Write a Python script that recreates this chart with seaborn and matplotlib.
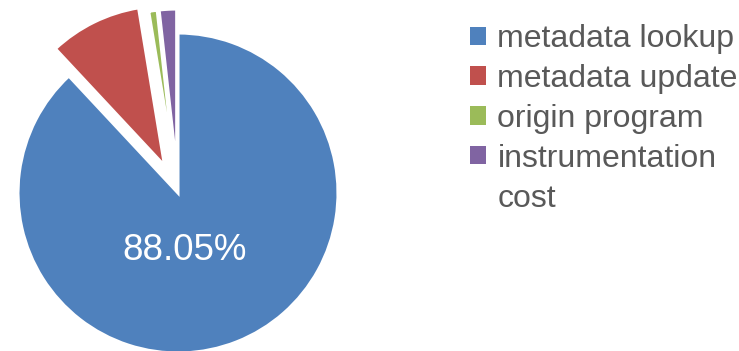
import matplotlib
matplotlib.use("Agg")
import matplotlib.pyplot as plt
from matplotlib.patches import Rectangle
import seaborn as sns

categories = ["metadata lookup", "metadata update", "origin program", "instrumentation\ncost"]
values = [88.05, 9.35, 0.85, 1.75]
colors = ["#4F81BD", "#C0504D", "#9BBB59", "#8064A2"]
explode = [0.0, 0.19, 0.15, 0.15]

sns.set_theme(style="white")
plt.rcParams["font.family"] = ["Liberation Sans", "DejaVu Sans"]
palette = sns.color_palette(colors)

W, H = 739, 351
fig = plt.figure(figsize=(W / 100, H / 100), dpi=100)
R = 160.0
cx, cy = 178.0, 351 - 193.0
span = 1.25
size = 2 * span * R
ax = fig.add_axes([(cx - size / 2) / W, (cy - size / 2) / H, size / W, size / H])

def fmt(p):
    return f"{p:.2f}%" if p > 50 else ""

wedges, texts, autotexts = ax.pie(
    values, colors=palette, explode=explode, startangle=90, counterclock=False,
    autopct=fmt, pctdistance=0.37,
    wedgeprops=dict(edgecolor="white", linewidth=2.2),
    textprops=dict(color="white", fontsize=26.5),
)
autotexts[0].set_position((0.04, -0.36))
ax.set_xlim(-span, span)
ax.set_ylim(-span, span)
ax.set_aspect("auto")
ax.axis("off")

# legend: split multi-line label so the swatch sits on the first line
handles, labels = [], []
for w, lab in zip(wedges, categories):
    parts = lab.split("\n")
    handles.append(Rectangle((0, 0), 1, 1, facecolor=w.get_facecolor(), edgecolor="none"))
    labels.append(parts[0])
    for extra in parts[1:]:
        handles.append(Rectangle((0, 0), 1, 1, facecolor="none", edgecolor="none"))
        labels.append(extra)

leg = fig.legend(handles, labels, loc="upper left", bbox_to_anchor=(470 / W, 1 - 24 / H),
                 frameon=False, fontsize=23, handlelength=0.5, handleheight=0.5,
                 handletextpad=0.36, labelspacing=0.31, borderpad=0, borderaxespad=0)
for t in leg.get_texts():
    t.set_color("#595959")

fig.savefig("out.png", dpi=100)
